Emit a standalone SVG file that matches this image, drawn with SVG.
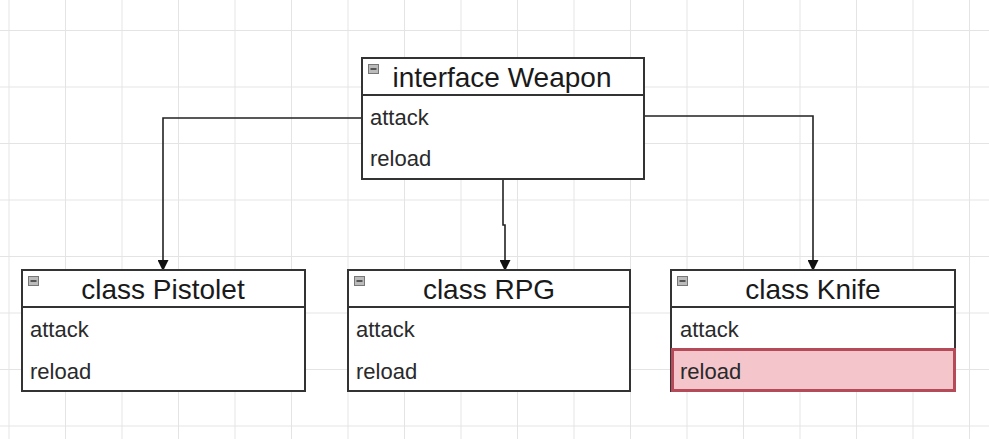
<svg xmlns="http://www.w3.org/2000/svg" width="989" height="439" viewBox="0 0 989 439">
<defs>
<pattern id="grid" x="8.5" y="30" width="56.5" height="56.5" patternUnits="userSpaceOnUse">
<path d="M0 0H56.5M0 0V56.5" fill="none" stroke="#e4e4e4" stroke-width="2"/>
</pattern>
<marker id="arr" viewBox="0 0 10 10" refX="9" refY="5" markerWidth="11" markerHeight="11" markerUnits="userSpaceOnUse" orient="auto">
<path d="M0 0L10 5L0 10Z" fill="#111"/>
</marker>
</defs>
<style>
.box{fill:#fff;stroke:#333;stroke-width:2}
.sep{stroke:#333;stroke-width:2}
.title{font-family:"Liberation Sans",Arial,sans-serif;font-size:28px;fill:#1a1a1a;text-anchor:middle}
.item{font-family:"Liberation Sans",Arial,sans-serif;font-size:22px;fill:#2a2a2a}
.ico{fill:#bbb;stroke:#777;stroke-width:1}
.ico2{stroke:#333;stroke-width:1.5}
.conn{fill:none;stroke:#222;stroke-width:1.6}
.hl{fill:#f4c6cc;stroke:#b54a58;stroke-width:3}
</style>
<rect width="989" height="439" fill="#fff"/>
<rect width="989" height="439" fill="url(#grid)"/>
<g id="connectors">
<path class="conn" d="M362 118H163V270" marker-end="url(#arr)"/>
<path class="conn" d="M644 116H813V270" marker-end="url(#arr)"/>
<path class="conn" d="M503 179V225H505V270" marker-end="url(#arr)"/>
</g>
<g id="weapon">
<rect class="box" x="362" y="58" width="282" height="121"/>
<line class="sep" x1="362" y1="95" x2="644" y2="95"/>
<rect class="ico" x="368.5" y="64.5" width="10" height="9"/>
<line class="ico2" x1="370.5" y1="69" x2="376.5" y2="69"/>
<text class="title" x="502" y="87">interface Weapon</text>
<text class="item" x="370" y="125">attack</text>
<text class="item" x="370" y="166">reload</text>
</g>
<g id="pistolet">
<rect class="box" x="22" y="270" width="283" height="121"/>
<line class="sep" x1="22" y1="307" x2="305" y2="307"/>
<rect class="ico" x="28.5" y="276.5" width="10" height="9"/>
<line class="ico2" x1="30.5" y1="281" x2="36.5" y2="281"/>
<text class="title" x="163" y="299">class Pistolet</text>
<text class="item" x="30" y="337">attack</text>
<text class="item" x="30" y="379">reload</text>
</g>
<g id="rpg">
<rect class="box" x="348" y="270" width="282" height="121"/>
<line class="sep" x1="348" y1="307" x2="630" y2="307"/>
<rect class="ico" x="354.5" y="276.5" width="10" height="9"/>
<line class="ico2" x1="356.5" y1="281" x2="362.5" y2="281"/>
<text class="title" x="489" y="299">class RPG</text>
<text class="item" x="356" y="337">attack</text>
<text class="item" x="356" y="379">reload</text>
</g>
<g id="knife">
<rect class="box" x="671" y="270" width="284" height="121"/>
<line class="sep" x1="671" y1="307" x2="955" y2="307"/>
<rect class="hl" x="672.5" y="349.5" width="282" height="41"/>
<rect class="ico" x="677.5" y="276.5" width="10" height="9"/>
<line class="ico2" x1="679.5" y1="281" x2="685.5" y2="281"/>
<text class="title" x="813" y="299">class Knife</text>
<text class="item" x="680" y="337">attack</text>
<text class="item" x="680" y="379">reload</text>
</g>
</svg>
